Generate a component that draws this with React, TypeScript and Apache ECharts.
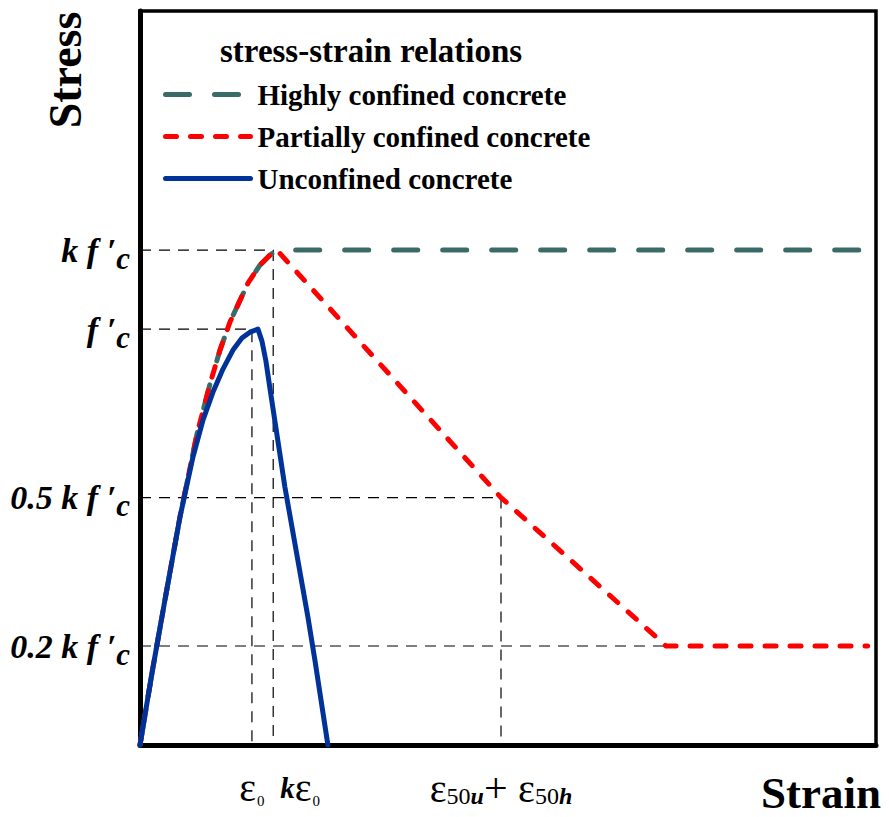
import React, { useEffect, useRef } from "react";
import * as echarts from "echarts";

// Schematic stress-strain model for confined / unconfined concrete.
// Stress is expressed in units of f'c, strain in mm/mm.
const K = 1.19; // confinement factor k
const EPS0 = 0.002; // strain at peak, unconfined
const K_EPS0 = 0.00238; // strain at peak, confined (k * eps0)
const EPS50 = 0.00645; // eps50u + eps50h
const EPS20 = 0.0094; // strain where the partially confined branch reaches 0.2 k f'c
const X_END = 0.013;
const X_MAX = 0.01315;
const Y_MAX = 1.765;

// Ascending branch shared by both confined curves
const confinedRiseStrain = [0, 0.000214, 0.000446, 0.000714, 0.001018, 0.00125, 0.001429, 0.001607, 0.001929, 0.002143, 0.002321, 0.002446];
const confinedRiseStress = [0, 0.1731, 0.3491, 0.5481, 0.7476, 0.8678, 0.9496, 1.0169, 1.1106, 1.1539, 1.1779, 1.19];

// Partially confined softening branch
const partialFallStrain = [EPS50, EPS20, X_END];
const partialFallStress = [0.5 * K, 0.2 * K, 0.2 * K];

// Highly confined plateau
const highPlateauStrain = [X_END];
const highPlateauStress = [K];

// Unconfined concrete
const unconfinedStrain = [
  0, 0.000214, 0.000446, 0.000714, 0.000946, 0.001125, 0.001304, 0.001482, 0.001661, 0.001821, 0.001964, 0.002107,
  0.002179, 0.00225, 0.002321, 0.002589, 0.003, 0.003125, 0.003357,
];
const unconfinedStress = [
  0, 0.1731, 0.3491, 0.5481, 0.6924, 0.7813, 0.8486, 0.9039, 0.9496, 0.9784, 0.9928, 1.0,
  0.9712, 0.9231, 0.8582, 0.6202, 0.3077, 0.2043, 0,
];

const yTickValues = [0.2 * K, 0.5 * K, 1, K];
const yTickLabels = ["{m|0.2 k f ′}{s|c}", "{m|0.5 k f ′}{s|c}", "{m|f ′}{s|c}", "{m|k f ′}{s|c}"];
const xTickValues = [EPS0, EPS50];
const xTickLabels = ["{e|ε}{z|0}", "{e|ε}{n|50}{u|u}{p|+ }{e|ε}{n|50}{u|h}"];
const xTickValuesConfined = [K_EPS0];
const xTickLabelsConfined = ["{sp|}{k|k}{e|ε}{z|0}"];

const SERIF = "'Liberation Serif', 'Times New Roman', serif";
const GREEN = "#3a6b66";
const RED = "#ff0000";
const BLUE = "#003399";

const GREEN_DASH = [24, 25];
const RED_DASH = [11, 14];

const zip = (xs: number[], ys: number[]) => xs.map((x, i) => [x, ys[i]]);

const pickLabel = (values: number[], labels: string[], v: number) => {
  const i = values.findIndex((t) => Math.abs(t - v) < 1e-7);
  return i >= 0 ? labels[i] : "";
};

const guide = (name: string, pts: number[][]) => ({
  name,
  type: "line",
  data: pts,
  symbol: "none",
  silent: true,
  z: 1,
  lineStyle: { color: "#000", width: 1.2, type: [11, 8] },
});

const strainRich = {
  e: { fontFamily: SERIF, fontSize: 40, color: "#000" },
  z: { fontFamily: SERIF, fontSize: 15, color: "#000", padding: [26, 0, 0, 1] },
  k: { fontFamily: SERIF, fontSize: 29, fontWeight: "bold", fontStyle: "italic", color: "#000" },
  n: { fontFamily: SERIF, fontSize: 24, color: "#000", padding: [16, 0, 0, 0] },
  u: { fontFamily: SERIF, fontSize: 24, fontWeight: "bold", fontStyle: "italic", color: "#000", padding: [16, 0, 0, 0] },
  p: { fontFamily: SERIF, fontSize: 42, color: "#000" },
  sp: { width: 54 },
};

export default function App() {
  const ref = useRef<HTMLDivElement>(null);

  useEffect(() => {
    if (!ref.current) return;
    const chart = echarts.init(ref.current, undefined, { renderer: "svg" });

    const rise = zip(confinedRiseStrain, confinedRiseStress);

    chart.setOption({
      animation: false,
      backgroundColor: "#fff",
      title: {
        text: "stress-strain relations",
        left: 220,
        top: 34,
        padding: 0,
        textStyle: { fontFamily: SERIF, fontWeight: "bold", fontSize: 33, color: "#000" },
      },
      legend: {
        data: [
          { name: "Highly confined concrete", lineStyle: { color: GREEN, width: 5, type: GREEN_DASH, cap: "round" } },
          { name: "Partially confined concrete", lineStyle: { color: RED, width: 5, type: RED_DASH, cap: "round" } },
          { name: "Unconfined concrete", lineStyle: { color: BLUE, width: 5, type: "solid", cap: "round" } },
        ],
        orient: "vertical",
        left: 163,
        top: 80,
        padding: 0,
        itemWidth: 85,
        itemHeight: 14,
        itemGap: 13,
        selectedMode: false,
        itemStyle: { opacity: 0 },
        textStyle: { fontFamily: SERIF, fontWeight: "bold", fontSize: 29, color: "#000", padding: [0, 0, 0, 2] },
      },
      grid: {
        left: 140,
        top: 11,
        right: 13,
        bottom: 72,
        show: true,
        borderColor: "#000",
        borderWidth: 3.5,
      },
      xAxis: [
        {
          type: "value",
          min: 0,
          max: X_MAX,
          position: "bottom",
          splitLine: { show: false },
          axisTick: { show: false },
          axisLine: { lineStyle: { color: "#000", width: 5 } },
          axisLabel: {
            customValues: xTickValues,
            margin: 22,
            color: "#000",
            formatter: (v: number) => pickLabel(xTickValues, xTickLabels, v),
            rich: strainRich,
          },
        },
        {
          type: "value",
          min: 0,
          max: X_MAX,
          position: "bottom",
          splitLine: { show: false },
          axisTick: { show: false },
          axisLine: { show: false },
          axisLabel: {
            customValues: xTickValuesConfined,
            margin: 22,
            color: "#000",
            formatter: (v: number) => pickLabel(xTickValuesConfined, xTickLabelsConfined, v),
            rich: strainRich,
          },
        },
      ],
      yAxis: {
        type: "value",
        min: 0,
        max: Y_MAX,
        splitLine: { show: false },
        axisTick: { show: false },
        axisLine: { lineStyle: { color: "#000", width: 5 } },
        axisLabel: {
          customValues: yTickValues,
          margin: 10,
          color: "#000",
          formatter: (v: number) => pickLabel(yTickValues, yTickLabels, v),
          rich: {
            m: { fontFamily: SERIF, fontSize: 34, fontWeight: "bold", fontStyle: "italic", color: "#000" },
            s: { fontFamily: SERIF, fontSize: 31, fontWeight: "bold", fontStyle: "italic", color: "#000", padding: [16, 0, 0, 0] },
          },
        },
      },
      graphic: [
        {
          type: "text",
          x: 65,
          y: 70,
          rotation: Math.PI / 2,
          style: {
            text: "Stress",
            fontFamily: SERIF,
            fontWeight: "bold",
            fontSize: 46,
            fill: "#000",
            align: "center",
            verticalAlign: "middle",
          },
        },
        {
          type: "text",
          x: 821,
          y: 793,
          style: {
            text: "Strain",
            fontFamily: SERIF,
            fontWeight: "bold",
            fontSize: 45,
            fill: "#000",
            align: "center",
            verticalAlign: "middle",
          },
        },
      ],
      series: [
        guide("guide-kfc", [[0, K], [K_EPS0, K], [K_EPS0, 0]]),
        guide("guide-fc", [[0, 1], [EPS0, 1], [EPS0, 0]]),
        guide("guide-50", [[0, 0.5 * K], [EPS50, 0.5 * K], [EPS50, 0]]),
        guide("guide-20", [[0, 0.2 * K], [EPS20, 0.2 * K]]),
        {
          name: "Highly confined concrete",
          type: "line",
          symbol: "none",
          z: 2,
          data: rise.concat(zip(highPlateauStrain, highPlateauStress)),
          lineStyle: { color: GREEN, width: 5, type: GREEN_DASH, cap: "round", join: "round" },
          itemStyle: { color: GREEN },
        },
        {
          name: "Partially confined concrete",
          type: "line",
          symbol: "none",
          z: 3,
          data: rise.concat(zip(partialFallStrain, partialFallStress)),
          lineStyle: { color: RED, width: 5, type: RED_DASH, cap: "round", join: "round" },
          itemStyle: { color: RED },
        },
        {
          name: "Unconfined concrete",
          type: "line",
          symbol: "none",
          z: 4,
          data: zip(unconfinedStrain, unconfinedStress),
          lineStyle: { color: BLUE, width: 5, cap: "round", join: "round" },
          itemStyle: { color: BLUE },
        },
      ],
    });

    return () => chart.dispose();
  }, []);

  return (
    <div
      ref={ref}
      style={{ position: "fixed", left: 0, top: 0, width: 889, height: 817, background: "#fff" }}
    />
  );
}
